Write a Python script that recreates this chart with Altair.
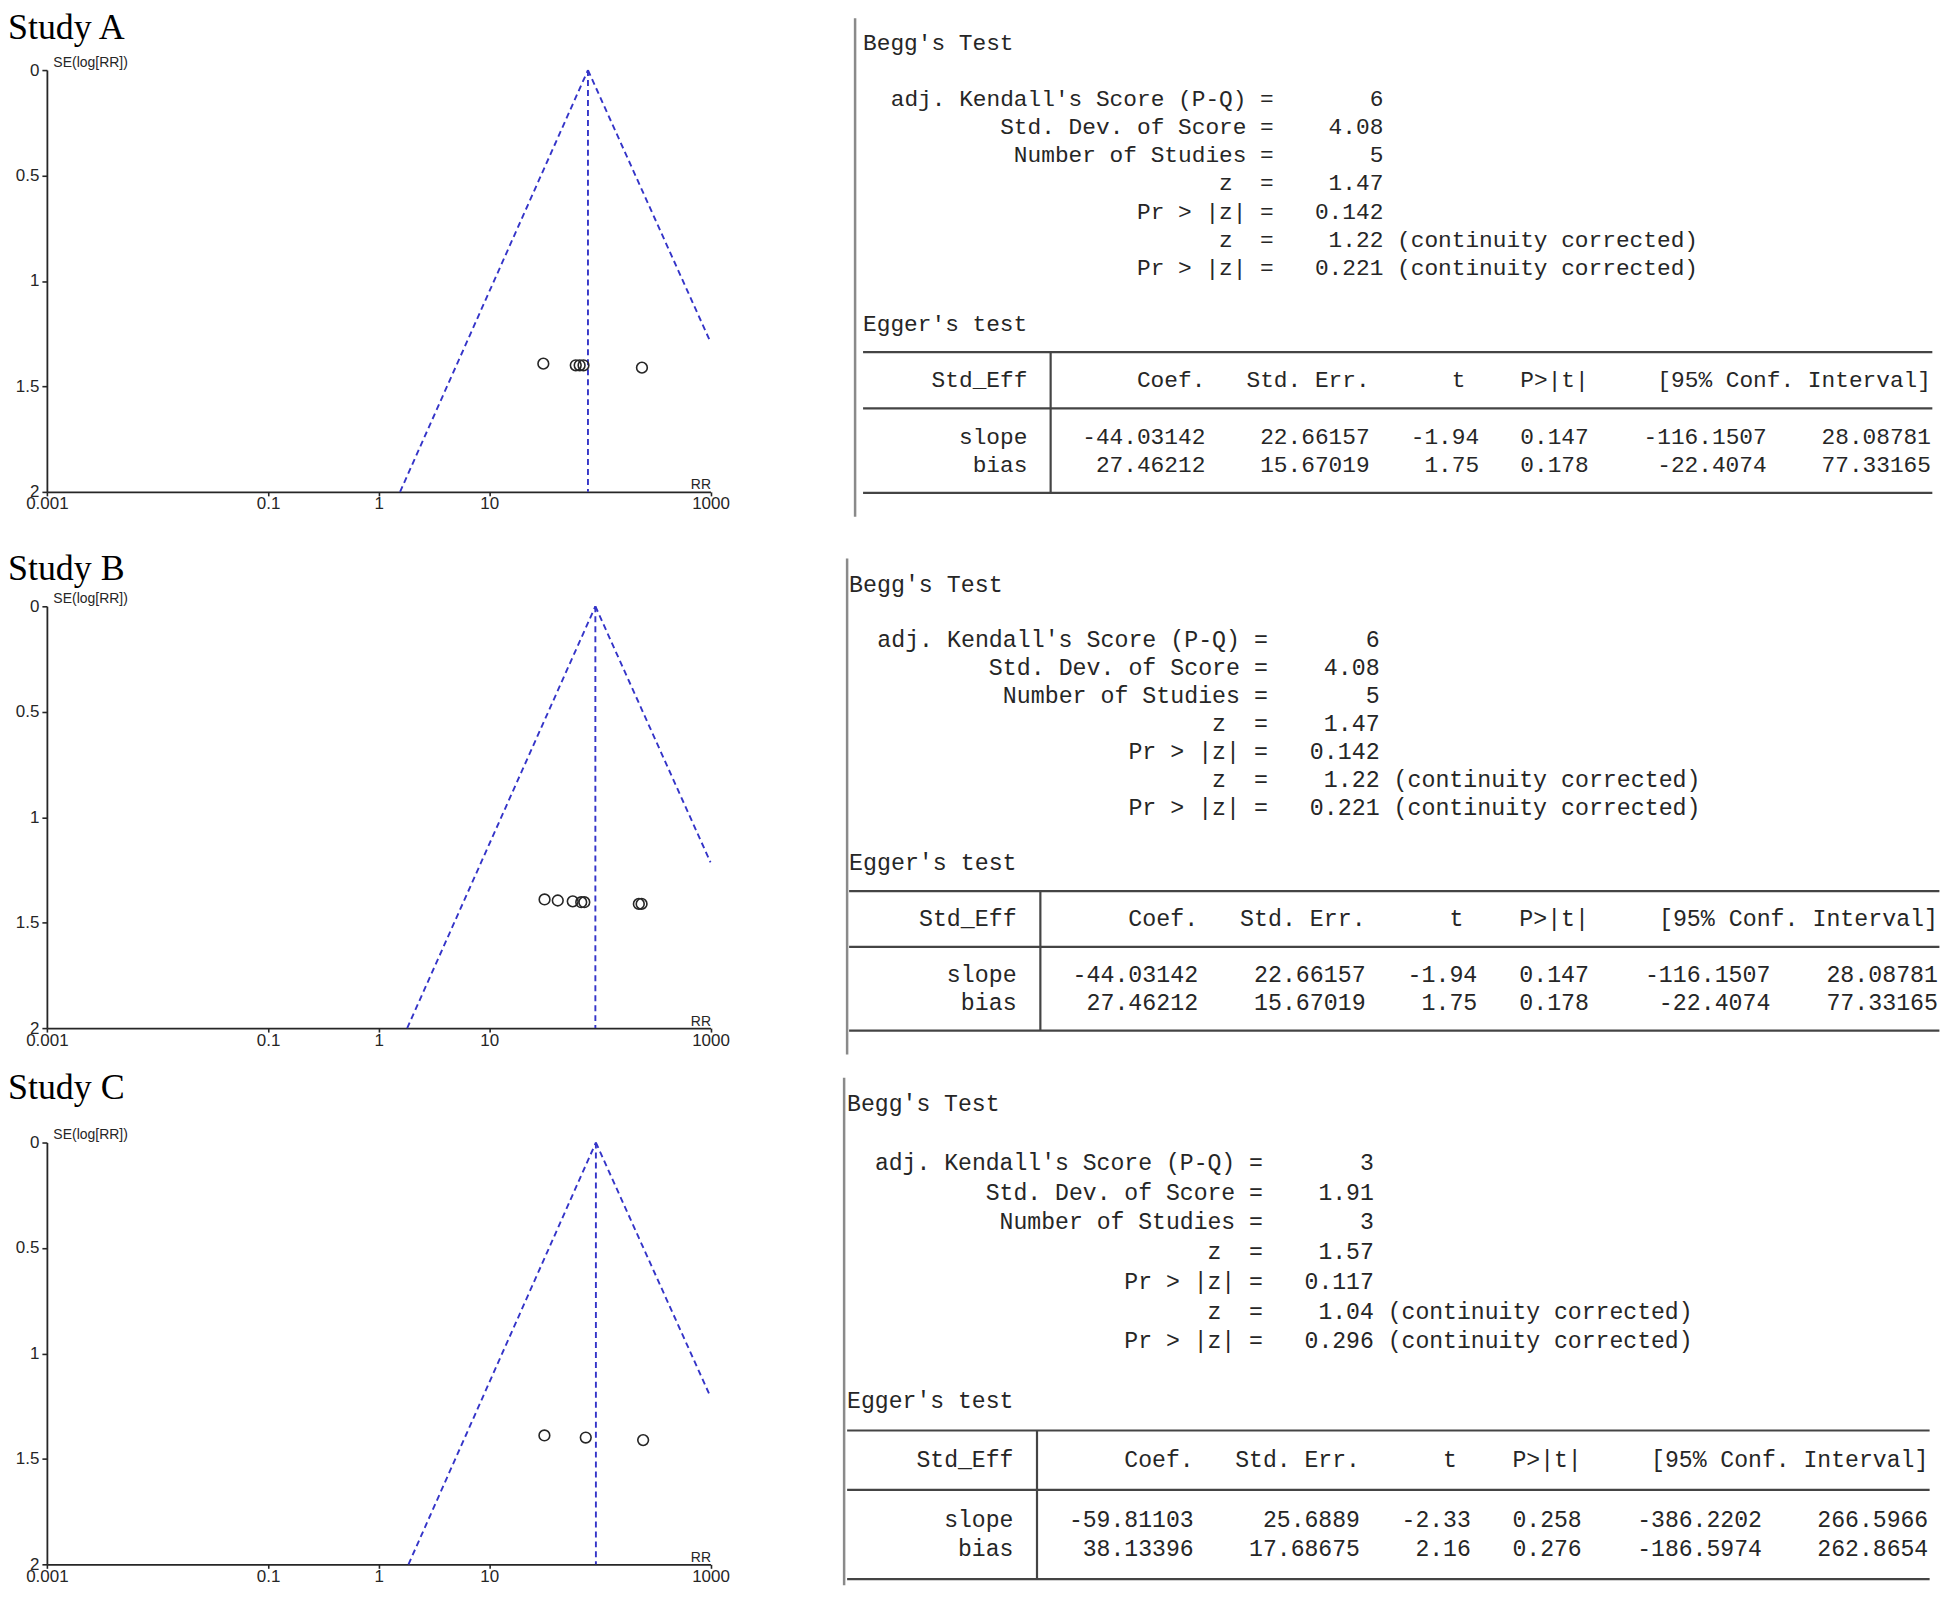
import altair as alt
import pandas as pd

# ---------------- values ----------------
studies = ["Study A", "Study B", "Study C"]

rr_A = [30.8, 60.5, 65.6, 71.1, 240.0]
se_A = [1.392, 1.400, 1.400, 1.400, 1.411]
rr_B = [31.6, 41.6, 56.8, 67.8, 72.3, 224.9, 238.2]
se_B = [1.390, 1.395, 1.399, 1.403, 1.403, 1.411, 1.411]
rr_C = [31.5, 74.5, 246.0]
se_C = [1.389, 1.399, 1.411]

pooled_rr = [78.0, 91.0, 92.0]            # apex / vertical dashed line
left_limit_rr = [1.56, 1.81, 1.86]        # left funnel line at SE = 2
right_limit_se = [1.29, 1.214, 1.206]     # right funnel line at RR = 1000

x_ticks = [0.001, 0.1, 1, 10, 1000]
y_ticks = [0, 0.5, 1, 1.5, 2]

begg_labels = ["adj. Kendall's Score (P-Q) =", "Std. Dev. of Score =",
               "Number of Studies =", "z  =", "Pr > |z| =", "z  =", "Pr > |z| ="]
begg_notes = ["", "", "", "", "", "(continuity corrected)", "(continuity corrected)"]
begg_A = ["6", "4.08", "5", "1.47", "0.142", "1.22", "0.221"]
begg_B = ["6", "4.08", "5", "1.47", "0.142", "1.22", "0.221"]
begg_C = ["3", "1.91", "3", "1.57", "0.117", "1.04", "0.296"]

egger_header = ["Std_Eff", "Coef.", "Std. Err.", "t", "P>|t|", "[95% Conf. Interval]"]
egger_terms = ["slope", "bias"]
egger_A = [["-44.03142", "22.66157", "-1.94", "0.147", "-116.1507", "28.08781"],
           ["27.46212", "15.67019", "1.75", "0.178", "-22.4074", "77.33165"]]
egger_B = [["-44.03142", "22.66157", "-1.94", "0.147", "-116.1507", "28.08781"],
           ["27.46212", "15.67019", "1.75", "0.178", "-22.4074", "77.33165"]]
egger_C = [["-59.81103", "25.6889", "-2.33", "0.258", "-386.2202", "266.5966"],
           ["38.13396", "17.68675", "2.16", "0.276", "-186.5974", "262.8654"]]

# ---------------- layout (pixels / character grid) ----------------
W, H = 665.5, 423.0
LEFT, TOP0, PITCH = 46.5, 71.0, 539.5
SPACING = PITCH - H - 1.75

PANELS = [
    dict(x0=865.0, cw=13.73, row0=43.75, rh=28.2, vx=857.0, vtop=19.0, vbot=519.0),
    dict(x0=851.0, cw=14.0, row0=588.75, rh=27.95, vx=849.0, vtop=562.5, vbot=1060.0),
    dict(x0=849.0, cw=13.9, row0=1111.0, rh=29.8, vx=846.0, vtop=1085.0, vbot=1594.0),
]
BEGG_LABEL_COL, BEGG_VALUE_COL, BEGG_NOTE_COL = 30, 38, 39
HEADER_COLS = [12, 25, 37, 44, 53, 78]
DATA_COLS = [12, 25, 37, 45, 53, 66, 78]
TABLE_END_COL, TABLE_BAR_COL = 78.1, 13.7

BLUE = "#3434c8"
INK = "#262626"
TICK_FONT = "Liberation Sans Narrow, Arial Narrow, Liberation Sans, Arial"
MONO = "Liberation Mono"


def nb(s):
    return s.replace(" ", "\u00a0")


def funnel_layer(i, rr, se):
    pts = pd.DataFrame({"rr": rr, "se": se})
    lines = pd.DataFrame({
        "seg": ["left", "left", "right", "right", "mid", "mid"],
        "rr": [pooled_rr[i], left_limit_rr[i], pooled_rr[i], 1000, pooled_rr[i], pooled_rr[i]],
        "se": [0, 2, 0, right_limit_se[i], 0, 2],
    })
    xs = alt.Scale(type="log", domain=[0.001, 1000], nice=False)
    ys = alt.Scale(domain=[0, 2], nice=False, zero=False, reverse=True)
    xaxis = alt.Axis(values=x_ticks, format="~g", grid=False, labelFlush=False,
                     labelOverlap=False, labelFont=TICK_FONT, labelFontSize=17,
                     labelColor=INK, labelPadding=0, tickSize=4, tickWidth=1.6,
                     tickColor=INK, domainColor=INK, domainWidth=1.8,
                     title="RR", titleX=W, titleY=-3, titleAlign="right",
                     titleBaseline="alphabetic", titleFont="Liberation Sans",
                     titleFontSize=14, titleFontWeight="normal", titleColor=INK)
    yaxis = alt.Axis(values=y_ticks, format="~g", grid=False, labelFlush=False,
                     labelOverlap=False, labelFont=TICK_FONT, labelFontSize=17,
                     labelColor=INK, labelPadding=3, tickSize=5, tickWidth=1.6,
                     tickColor=INK, domainColor=INK, domainWidth=1.8,
                     title="SE(log[RR])", titleAngle=0, titleX=6, titleY=-4,
                     titleAlign="left", titleBaseline="alphabetic",
                     titleFont="Liberation Sans", titleFontSize=14,
                     titleFontWeight="normal", titleColor=INK)
    line = alt.Chart(lines).mark_line(color=BLUE, strokeWidth=1.9,
                                      strokeDash=[6, 4]).encode(
        x=alt.X("rr:Q", scale=xs, axis=xaxis),
        y=alt.Y("se:Q", scale=ys, axis=yaxis),
        detail="seg:N",
    )
    points = alt.Chart(pts).mark_point(shape="circle", filled=False, size=115,
                                       strokeWidth=1.6, color=INK, opacity=1).encode(
        x=alt.X("rr:Q", scale=xs, axis=xaxis),
        y=alt.Y("se:Q", scale=ys, axis=yaxis),
    )
    return alt.layer(line, points)


def text_layer(i, begg_vals, egger_vals):
    p = PANELS[i]
    top = TOP0 + i * PITCH
    off = p["x0"] - LEFT
    xs = alt.Scale(domain=[-off / p["cw"], (W - off) / p["cw"]], nice=False, zero=False)
    ys = alt.Scale(domain=[(top - p["row0"]) / p["rh"], (top + H - p["row0"]) / p["rh"]],
                   nice=False, zero=False, reverse=True)
    fs = p["cw"] / 0.6

    right_items = []
    for k, lab in enumerate(begg_labels):
        right_items.append((BEGG_LABEL_COL, 2 + k, nb(lab)))
        right_items.append((BEGG_VALUE_COL, 2 + k, begg_vals[k]))
    for c, h in zip(HEADER_COLS, egger_header):
        right_items.append((c, 12, nb(h)))
    for r, (term, vals) in enumerate(zip(egger_terms, egger_vals)):
        right_items.append((DATA_COLS[0], 14 + r, term))
        for c, v in zip(DATA_COLS[1:], vals):
            right_items.append((c, 14 + r, v))
    left_items = [(0, 0, nb("Begg's Test")), (0, 10, nb("Egger's test"))]
    for k, note in enumerate(begg_notes):
        if note:
            left_items.append((BEGG_NOTE_COL, 2 + k, nb(note)))

    rdf = pd.DataFrame(right_items, columns=["col", "row", "txt"])
    ldf = pd.DataFrame(left_items, columns=["col", "row", "txt"])
    hdf = pd.DataFrame({"col": [0, 0, 0], "col2": [TABLE_END_COL] * 3, "row": [11, 13, 16]})
    vdf = pd.DataFrame({"col": [TABLE_BAR_COL], "row": [11], "row2": [16]})
    pdf = pd.DataFrame({"col": [(p["vx"] - p["x0"]) / p["cw"]],
                        "row": [(p["vtop"] - p["row0"]) / p["rh"]],
                        "row2": [(p["vbot"] - p["row0"]) / p["rh"]]})

    X = alt.X("col:Q", scale=xs, axis=None)
    Y = alt.Y("row:Q", scale=ys, axis=None)
    rtext = alt.Chart(rdf).mark_text(align="right", baseline="middle", font=MONO,
                                     fontSize=fs, color=INK).encode(x=X, y=Y, text="txt:N")
    ltext = alt.Chart(ldf).mark_text(align="left", baseline="middle", font=MONO,
                                     fontSize=fs, color=INK).encode(x=X, y=Y, text="txt:N")
    hrule = alt.Chart(hdf).mark_rule(color="#444444", strokeWidth=2.2).encode(
        x=X, x2="col2:Q", y=Y)
    vrule = alt.Chart(vdf).mark_rule(color="#444444", strokeWidth=2.2).encode(
        x=X, y=Y, y2="row2:Q")
    prule = alt.Chart(pdf).mark_rule(color="#8a8a8a", strokeWidth=2.5).encode(
        x=X, y=Y, y2="row2:Q")
    return alt.layer(prule, hrule, vrule, rtext, ltext)


rows = []
for i, (rr, se, bv, ev) in enumerate([(rr_A, se_A, begg_A, egger_A),
                                       (rr_B, se_B, begg_B, egger_B),
                                       (rr_C, se_C, begg_C, egger_C)]):
    row = alt.layer(funnel_layer(i, rr, se), text_layer(i, bv, ev)).resolve_scale(
        x="independent", y="independent"
    ).properties(
        width=W, height=H,
        title=alt.TitleParams(studies[i], anchor="start", frame="group", dx=-39,
                              dy=74.5, offset=16, font="Liberation Serif", fontSize=36,
                              fontWeight="normal", color="black",
                              baseline="alphabetic"),
    )
    rows.append(row)

chart = alt.vconcat(*rows, spacing=SPACING, bounds="flush").properties(
    padding=0, background="white"
).configure_view(stroke=None)

chart.save("out.html", embed_options={"renderer": "svg", "actions": False})
